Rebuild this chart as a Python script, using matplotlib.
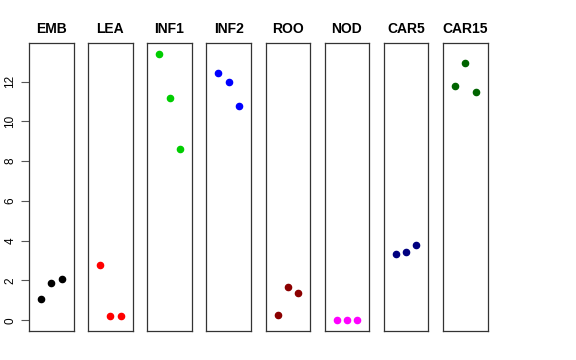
import matplotlib
matplotlib.use('Agg')
from matplotlib import pyplot as plt

plt.rcParams['font.family'] = ['Liberation Sans', 'DejaVu Sans']

tissues = ['EMB', 'LEA', 'INF1', 'INF2', 'ROO', 'NOD', 'CAR5', 'CAR15']
colors = ['black', 'red', '#00CD00', 'blue', '#8B0000', 'magenta', '#000080', '#006400']
reps = [1, 2, 3]
values = {
    'EMB': [1.05, 1.85, 2.09],
    'LEA': [2.77, 0.22, 0.21],
    'INF1': [13.41, 11.18, 8.60],
    'INF2': [12.45, 11.99, 10.75],
    'ROO': [0.25, 1.69, 1.37],
    'NOD': [0.0, 0.02, 0.0],
    'CAR5': [3.32, 3.42, 3.77],
    'CAR15': [11.77, 12.93, 11.50],
}
yticks = [0, 2, 4, 6, 8, 10, 12]

fig = plt.figure(figsize=(5.76, 3.6), dpi=100)
W, H = 576, 360
for i, (t, c) in enumerate(zip(tissues, colors)):
    x0 = 29 + i * 59.15
    ax = fig.add_axes([x0 / W, 29 / H, 44.5 / W, 288 / H])
    ax.scatter(reps, values[t], s=20, color=c, zorder=3)
    ax.set_xlim(-0.16, 4.16)
    ax.set_ylim(-0.54, 13.94)
    ax.set_title(t, fontsize=10, fontweight='bold', pad=7)
    ax.set_xticks([])
    for sp in ax.spines.values():
        sp.set_linewidth(0.9)
        sp.set_color('#333333')
    if i == 0:
        ax.set_yticks(yticks)
        ax.set_yticklabels([str(v) for v in yticks], rotation=90, va='center', fontsize=8.5)
        ax.tick_params(axis='y', length=6, width=0.8, color='#555555', pad=3)
    else:
        ax.set_yticks([])

fig.savefig('out.png', dpi=100)
